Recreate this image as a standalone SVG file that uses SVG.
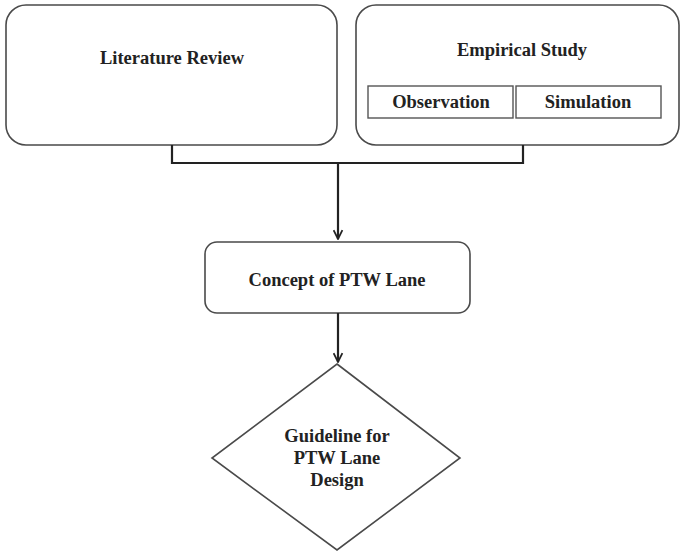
<svg xmlns="http://www.w3.org/2000/svg" width="681" height="553" viewBox="0 0 681 553">
  <defs>
    <style>
      .box { fill: #ffffff; stroke: #4a4a4a; stroke-width: 1.6; }
      .sub { fill: #ffffff; stroke: #555555; stroke-width: 1.4; }
      .edge { fill: none; stroke: #222222; stroke-width: 2.2; }
      .lbl { font-family: "Liberation Serif", "Times New Roman", serif; font-weight: bold; font-size: 18.5px; fill: #222222; text-anchor: middle; }
    </style>
    <marker id="arrow" viewBox="0 0 10 10" refX="9" refY="5" markerWidth="5" markerHeight="5" orient="auto" markerUnits="strokeWidth">
      <path d="M1,1 L9,5 L1,9" fill="none" stroke="#222222" stroke-width="1.6"/>
    </marker>
  </defs>
  <rect width="681" height="553" fill="#ffffff"/>

  <g id="literature-review">
    <rect class="box" x="6" y="5" width="331" height="140" rx="20" ry="20"/>
    <text class="lbl" x="172" y="64">Literature Review</text>
  </g>

  <g id="empirical-study">
    <rect class="box" x="356" y="5" width="323" height="140" rx="20" ry="20"/>
    <text class="lbl" x="522" y="56">Empirical Study</text>
    <g id="observation">
      <rect class="sub" x="368" y="86" width="145" height="32"/>
      <text class="lbl" x="441" y="108">Observation</text>
    </g>
    <g id="simulation">
      <rect class="sub" x="516" y="86" width="145" height="32"/>
      <text class="lbl" x="588" y="108">Simulation</text>
    </g>
  </g>

  <g id="concept">
    <rect class="box" x="205" y="242" width="265" height="71" rx="12" ry="12"/>
    <text class="lbl" x="337" y="286">Concept of PTW Lane</text>
  </g>

  <g id="guideline">
    <polygon class="box" points="337,364 460,458 337,550 212,458"/>
    <text class="lbl" x="337" y="442">Guideline for</text>
    <text class="lbl" x="337" y="464">PTW Lane</text>
    <text class="lbl" x="337" y="486">Design</text>
  </g>

  <g id="connectors">
    <path class="edge" d="M172,145 V163 H523 V145"/>
    <path class="edge" d="M338,163 V239" marker-end="url(#arrow)"/>
    <path class="edge" d="M338,313 V362" marker-end="url(#arrow)"/>
  </g>
</svg>
